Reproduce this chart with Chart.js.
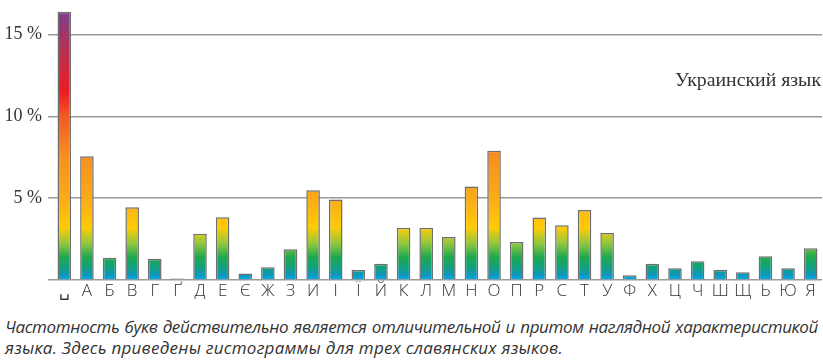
<!DOCTYPE html>
<html>
<head>
<meta charset="utf-8">
<script src="https://cdn.jsdelivr.net/npm/chart.js@4/dist/chart.umd.min.js"></script>
<style>
  body { margin: 0; background: #fff; }
  #wrap { position: relative; width: 823px; height: 310px; }
  #caption {
    position: absolute; left: 5px; top: 316px; width: 813px;
    font: italic 17px/21px 'Open Sans', sans-serif;
    color: #333;
  }
  #caption span { white-space: nowrap; display: inline-block; }
</style>
</head>
<body>
<div id="wrap"><canvas id="freqChart"></canvas></div>
<div id="caption">
  <span id="line1">Частотность букв действительно является отличительной и притом наглядной характеристикой</span><br>
  <span id="line2">языка. Здесь приведены гистограммы для трех славянских языков.</span>
</div>
<script>
// буквы украинского алфавита (␣ = пробел)
const letters = ['␣', 'А', 'Б', 'В', 'Г', 'Ґ', 'Д', 'Е', 'Є', 'Ж', 'З', 'И', 'І', 'Ї', 'Й', 'К', 'Л',
  'М', 'Н', 'О', 'П', 'Р', 'С', 'Т', 'У', 'Ф', 'Х', 'Ц', 'Ч', 'Ш', 'Щ', 'Ь', 'Ю', 'Я'];

// частота, %
const freq = [16.4, 7.57, 1.36, 4.45, 1.30, 0.09, 2.83, 3.84, 0.40, 0.78, 1.88, 5.49, 4.92, 0.61, 1.00, 3.20, 3.20,
  2.63, 5.71, 7.91, 2.32, 3.82, 3.35, 4.28, 2.87, 0.29, 1.00, 0.72, 1.14, 0.63, 0.47, 1.45, 0.72, 1.94];

const yTicks = [0, 5, 10, 15];
const languageLabel = 'Украинский язык';

// цвет зависит от абсолютного значения (%)
const gradValues = [0, 0.3, 0.8, 1.4, 2.2, 3.2, 5, 7.5, 10, 11.5, 13.8, 16.4];
const gradColors = ['#00aeef', '#0b98bd', '#13a17a', '#1fa84e', '#8dc63f', '#ffcb05',
  '#fbab18', '#f7901e', '#f15a24', '#ed1c24', '#be2f4c', '#7b3f8c'];

// подгонка строк подписи по ширине
function fitLine(id, target, justify) {
  const el = document.getElementById(id);
  const chars = el.textContent.length;
  const spaces = (el.textContent.match(/ /g) || []).length;
  let w = el.getBoundingClientRect().width;
  if (w > target || !justify) {
    el.style.letterSpacing = ((target - w) / chars - (justify ? 0.1 : 0)) + 'px';
    w = el.getBoundingClientRect().width;
  }
  if (justify) el.style.wordSpacing = ((target - w) / spaces) + 'px';
}
fitLine('line1', 813, true);
fitLine('line2', 558, false);

let gradCache = null;
function barGradient(c) {
  const chart = c.chart;
  if (!chart.chartArea) return '#00aeef';
  const y = chart.scales.y;
  const y0 = y.getPixelForValue(0);
  const y1 = y.getPixelForValue(gradValues[gradValues.length - 1]);
  const key = y0 + ':' + y1;
  if (gradCache && gradCache.key === key) return gradCache.g;
  const g = chart.ctx.createLinearGradient(0, y0, 0, y1);
  const top = gradValues[gradValues.length - 1];
  gradValues.forEach((v, i) => g.addColorStop(v / top, gradColors[i]));
  gradCache = { key, g };
  return g;
}

// подпись языка справа вверху, растянута до ширины ~146px
const labelPlugin = {
  id: 'langLabel',
  afterDraw(chart) {
    const ctx = chart.ctx;
    ctx.save();
    ctx.font = "18px 'Liberation Serif', serif";
    ctx.fillStyle = '#333';
    ctx.textAlign = 'left';
    ctx.textBaseline = 'alphabetic';
    const w = ctx.measureText(languageLabel).width;
    ctx.translate(675, 86);
    ctx.scale(146 / w, 1);
    ctx.fillText(languageLabel, 0, 0);
    ctx.restore();
  }
};

new Chart(document.getElementById('freqChart'), {
  type: 'bar',
  data: {
    labels: letters,
    datasets: [{
      data: freq,
      backgroundColor: barGradient,
      borderColor: '#6e6e6e',
      borderWidth: 1.5,
      barPercentage: 0.6,
      categoryPercentage: 1
    }]
  },
  options: {
    responsive: true,
    maintainAspectRatio: false,
    animation: false,
    layout: { autoPadding: false, padding: { top: 2, right: 1, left: 0, bottom: 0 } },
    plugins: { legend: { display: false }, tooltip: { enabled: false } },
    scales: {
      x: {
        grid: { display: false, drawTicks: false },
        border: { display: false },
        ticks: {
          color: '#333',
          padding: 1,
          maxRotation: 0,
          autoSkip: false,
          font: { family: "'Open Sans', 'DejaVu Sans', sans-serif", size: 17, weight: 300 }
        },
        afterFit(s) { s.height = 30; s.paddingLeft = 0; s.paddingRight = 0; }
      },
      y: {
        min: 0,
        max: 17,
        z: 1,
        border: { display: false },
        grid: { color: '#9a9a9a', lineWidth: 1.5, drawTicks: true, tickLength: 5 },
        ticks: {
          color: '#333',
          padding: 6,
          font: { family: "'Liberation Serif', serif", size: 18 },
          callback: v => v === 0 ? '' : v + ' %'
        },
        afterBuildTicks(s) { s.ticks = yTicks.map(v => ({ value: v })); },
        afterFit(s) { s.width = 53; s.paddingTop = 0; s.paddingBottom = 0; }
      }
    }
  },
  plugins: [labelPlugin]
});
</script>
</body>
</html>
